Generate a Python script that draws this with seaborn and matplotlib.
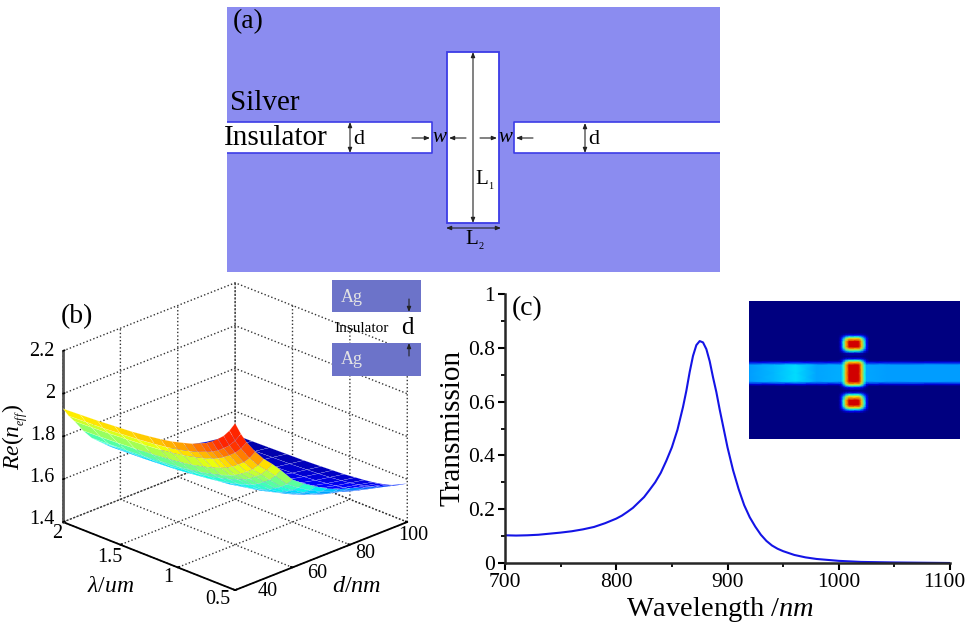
import numpy as np
import seaborn as sns
import matplotlib
matplotlib.use('Agg')
import matplotlib.pyplot as plt
from matplotlib.colors import ListedColormap
from matplotlib.patches import Rectangle
from matplotlib.transforms import ScaledTranslation

# panel (b) surface
d_nm = [40, 42, 44, 47, 50, 53, 56, 60, 64, 68, 72, 76, 80, 85, 90, 95, 100]
lam_um = [0.5, 0.55, 0.6, 0.65, 0.7, 0.75, 0.8, 0.875, 0.95, 1.05, 1.15, 1.25, 1.4, 1.55, 1.7, 1.85, 2.0]
n_eff = [
    [2.18, 2.12, 2.07, 2.01, 1.96, 1.92, 1.875, 1.81, 1.77, 1.735, 1.705, 1.68, 1.665, 1.64, 1.62, 1.60, 1.58],
    [2.135, 2.078, 2.03, 1.97, 1.92, 1.881, 1.838, 1.779, 1.741, 1.708, 1.68, 1.657, 1.643, 1.619, 1.60, 1.582, 1.564],
    [2.10, 2.045, 2.0, 1.94, 1.89, 1.851, 1.809, 1.756, 1.719, 1.687, 1.66, 1.638, 1.625, 1.603, 1.585, 1.568, 1.551],
    [2.075, 2.021, 1.978, 1.918, 1.868, 1.83, 1.789, 1.739, 1.703, 1.672, 1.646, 1.625, 1.613, 1.592, 1.574, 1.558, 1.542],
    [2.053, 2.0, 1.958, 1.898, 1.848, 1.81, 1.77, 1.723, 1.688, 1.659, 1.634, 1.614, 1.601, 1.581, 1.564, 1.549, 1.534],
    [2.035, 1.984, 1.942, 1.882, 1.832, 1.795, 1.756, 1.711, 1.677, 1.648, 1.624, 1.605, 1.593, 1.573, 1.556, 1.542, 1.528],
    [2.023, 1.972, 1.931, 1.871, 1.821, 1.785, 1.746, 1.703, 1.669, 1.641, 1.617, 1.598, 1.586, 1.568, 1.551, 1.537, 1.523],
    [2.005, 1.956, 1.916, 1.856, 1.806, 1.77, 1.732, 1.691, 1.658, 1.63, 1.607, 1.589, 1.578, 1.56, 1.543, 1.53, 1.517],
    [1.993, 1.944, 1.905, 1.845, 1.795, 1.759, 1.721, 1.683, 1.65, 1.623, 1.60, 1.583, 1.571, 1.554, 1.538, 1.525, 1.513],
    [1.978, 1.93, 1.892, 1.832, 1.782, 1.746, 1.709, 1.672, 1.64, 1.614, 1.592, 1.575, 1.564, 1.547, 1.531, 1.519, 1.507],
    [1.968, 1.92, 1.883, 1.823, 1.773, 1.737, 1.701, 1.666, 1.634, 1.608, 1.586, 1.57, 1.559, 1.542, 1.527, 1.515, 1.504],
    [1.96, 1.913, 1.876, 1.816, 1.766, 1.731, 1.695, 1.66, 1.629, 1.603, 1.582, 1.566, 1.555, 1.539, 1.523, 1.512, 1.501],
    [1.95, 1.904, 1.868, 1.808, 1.758, 1.722, 1.686, 1.654, 1.623, 1.597, 1.576, 1.56, 1.55, 1.534, 1.519, 1.508, 1.497],
    [1.944, 1.898, 1.862, 1.802, 1.752, 1.717, 1.681, 1.649, 1.619, 1.593, 1.573, 1.557, 1.547, 1.531, 1.516, 1.506, 1.495],
    [1.938, 1.892, 1.857, 1.797, 1.747, 1.711, 1.676, 1.645, 1.615, 1.59, 1.569, 1.554, 1.544, 1.528, 1.513, 1.503, 1.493],
    [1.934, 1.889, 1.853, 1.793, 1.743, 1.708, 1.673, 1.643, 1.612, 1.587, 1.567, 1.552, 1.542, 1.527, 1.512, 1.502, 1.491],
    [1.93, 1.885, 1.85, 1.79, 1.74, 1.705, 1.67, 1.64, 1.61, 1.585, 1.565, 1.55, 1.54, 1.525, 1.51, 1.50, 1.49],
]
d_ticks = [40, 60, 80, 100]
lam_ticks = [0.5, 1, 1.5, 2]
n_ticks = [1.4, 1.6, 1.8, 2, 2.2]

# panel (c) transmission spectrum
wavelength = [700, 710, 720, 730, 740, 750, 760, 770, 780, 790, 800, 805, 810, 815, 820, 825, 830, 835,
              840, 845, 850, 855, 860, 863, 866, 869, 872, 875, 878, 881, 884, 887, 890, 893, 896, 900,
              905, 910, 915, 920, 925, 930, 935, 940, 945, 950, 960, 970, 980, 1000, 1020, 1050, 1100]
transmission = [0.103, 0.102, 0.103, 0.105, 0.109, 0.113, 0.118, 0.125, 0.134, 0.148, 0.165, 0.176, 0.19,
                0.205, 0.225, 0.245, 0.272, 0.30, 0.335, 0.38, 0.43, 0.495, 0.58, 0.64, 0.71, 0.77, 0.81,
                0.825, 0.82, 0.795, 0.75, 0.69, 0.635, 0.57, 0.51, 0.43, 0.345, 0.275, 0.215, 0.17, 0.135,
                0.105, 0.082, 0.065, 0.053, 0.044, 0.03, 0.021, 0.015, 0.008, 0.004, 0.002, 0.0]

# panel (c) inset field map, profiles read along the inset box
field_x = [0, 0.12, 0.22, 0.32, 0.425, 0.437, 0.447, 0.46, 0.475, 0.52, 0.533, 0.547, 0.557, 0.57, 0.66, 1]
lobe_x = [0, 0, 0, 0, 0, 0.15, 0.42, 0.78, 1, 1, 0.78, 0.42, 0.15, 0, 0, 0]
band_x = [0.30, 0.33, 0.37, 0.31, 0.32, 0.32, 0.32, 0.32, 0.32, 0.32, 0.31, 0.31, 0.31, 0.31, 0.30, 0.30]
field_y = [0, 0.235, 0.25, 0.262, 0.275, 0.295, 0.335, 0.35, 0.365, 0.38, 0.405, 0.42, 0.432, 0.445, 0.465,
           0.525, 0.585, 0.605, 0.618, 0.63, 0.65, 0.665, 0.68, 0.695, 0.72, 0.755, 0.772, 0.787, 0.80, 0.815, 1]
lobe_y = [0, 0, 0.12, 0.42, 0.75, 1, 1, 0.75, 0.40, 0.06, 0, 0.10, 0.42, 0.75, 1,
          1, 1, 0.75, 0.42, 0.12, 0, 0.08, 0.40, 0.72, 1, 1, 0.75, 0.40, 0.12, 0, 0]
band_y = [0, 0, 0, 0, 0, 0, 0, 0, 0, 0, 0, 0, 0, 0.3, 1,
          1, 1, 0.3, 0, 0, 0, 0, 0, 0, 0, 0, 0, 0, 0, 0, 0]

W, H = 967, 626
sns.set_theme(style='ticks')
plt.rcParams['font.family'] = ['Liberation Serif', 'DejaVu Serif']
plt.rcParams['mathtext.fontset'] = 'custom'
plt.rcParams['mathtext.rm'] = 'Liberation Serif'
plt.rcParams['mathtext.it'] = 'Liberation Serif:italic'
plt.rcParams['text.color'] = 'black'
plt.rcParams['axes.labelcolor'] = 'black'
plt.rcParams['xtick.color'] = 'black'
plt.rcParams['ytick.color'] = 'black'

fig = plt.figure(figsize=(W / 100, H / 100), dpi=100, facecolor='white')


def px_axes(x0, y0, x1, y1, **kw):
    # axes placed with picture pixels, y counted from the top
    return fig.add_axes([x0 / W, 1 - y1 / H, (x1 - x0) / W, (y1 - y0) / H], **kw)


# panel (b)
ax_b = fig.add_axes([40 / W, -5.6 / H, 380 / W, 380 / H], projection='3d', proj_type='ortho')
ax_b.patch.set_alpha(0)
ax_b.view_init(elev=23.3, azim=-135)
ax_b.set_box_aspect((243, 243, 186))
D, L = np.meshgrid(d_nm, lam_um)
# jet without its dark red end, the peak stays bright red
short_jet = ListedColormap(plt.get_cmap('jet')(np.linspace(0, 0.87, 256)))
ax_b.plot_surface(D, L, np.array(n_eff), cmap=short_jet, vmin=1.47, vmax=2.05, rstride=1, cstride=1,
                  linewidth=0.1, edgecolor='white', shade=False, antialiased=True)
ax_b.set_xlim(40, 100, view_margin=0)
ax_b.set_ylim(0.5, 2, view_margin=0)
ax_b.set_zlim(1.4, 2.2, view_margin=0)
ax_b.set_xticks(d_ticks)
ax_b.set_yticks(lam_ticks)
ax_b.set_zticks(n_ticks)
ax_b.set_xticklabels([])
ax_b.set_yticklabels([])
ax_b.set_zticklabels([])
for axis in (ax_b.xaxis, ax_b.yaxis, ax_b.zaxis):
    axis.set_pane_color((1, 1, 1, 0))
    axis.pane.set_edgecolor((1, 1, 1, 0))
    axis._axinfo['grid'].update(color='#333333', linewidth=1.0, linestyle=(0, (1, 1.6)))
    axis._axinfo['tick'].update(inward_factor=0.0, outward_factor=0.12)
    axis.line.set_color('black')
    axis.line.set_linewidth(1.3)
ax_b.zaxis.line.set_color('#555555')
ax_b.zaxis.line.set_linewidth(2)

# panel (c)
ax_c = px_axes(505, 294, 950, 563)
sns.lineplot(x=wavelength, y=transmission, ax=ax_c, color='#1414e6', linewidth=1.5)
ax_c.set_xlim(700, 1100)
ax_c.set_ylim(0, 1)
ax_c.set_xticks([700, 800, 900, 1000, 1100])
ax_c.set_xticks([750, 850, 950, 1050], minor=True)
ax_c.set_yticks([0, 0.2, 0.4, 0.6, 0.8, 1])
ax_c.set_yticklabels(['0', '0.2', '0.4', '0.6', '0.8', '1'])
ax_c.set_yticks([0.1, 0.3, 0.5, 0.7, 0.9], minor=True)
ax_c.tick_params(which='major', length=5, width=1.5, labelsize=15.5, pad=2)
ax_c.tick_params(which='minor', length=3, width=1.3)
ax_c.patch.set_alpha(0)
sns.despine(ax=ax_c)
for side in ('left', 'bottom'):
    ax_c.spines[side].set_linewidth(1.8)
last = ax_c.get_xticklabels()[-1]
last.set_transform(last.get_transform() + ScaledTranslation(-6 / 100, 0, fig.dpi_scale_trans))
ax_c.set_xlabel('Wavelength /$\\mathit{nm}$', fontsize=20.5, va='center')
ax_c.xaxis.set_label_coords((720 - 505) / 445, -(610 - 563) / 269)
ax_c.set_ylabel('Transmission', fontsize=21, va='center')
ax_c.yaxis.set_label_coords(-(505 - 452) / 445, (563 - 428) / 269)

ax_in = px_axes(749, 301, 960, 439)
field = np.maximum(np.outer(lobe_y, lobe_x), np.outer(band_y, band_x))
ax_in.pcolormesh(field_x, field_y, field, cmap='jet', vmin=0, vmax=1.08, shading='gouraud')
ax_in.set_xlim(0, 1)
ax_in.set_ylim(1, 0)
ax_in.set_axis_off()

# schematic and all free labels, drawn in picture pixels
over = fig.add_axes([0, 0, 1, 1], zorder=5)
over.set_xlim(0, W)
over.set_ylim(H, 0)
over.set_axis_off()
over.patch.set_alpha(0)

silver = '#8b8cf0'
rim = '#3c3ce6'
over.add_patch(Rectangle((227, 7), 493, 265, fc=silver, ec='none'))
over.add_patch(Rectangle((227, 122), 205, 31, fc='white', ec='none'))
over.add_patch(Rectangle((514, 122), 206, 31, fc='white', ec='none'))
over.add_patch(Rectangle((447, 52), 52, 171, fc='white', ec=rim, lw=1.3))
over.plot([227, 432, 432, 227], [122, 122, 153, 153], color=rim, lw=1.2, solid_capstyle='butt')
over.plot([720, 514, 514, 720], [122, 122, 153, 153], color=rim, lw=1.2, solid_capstyle='butt')

arrows = [
    (350, 122, 350, 153, '<|-|>'), (585, 123, 585, 153, '<|-|>'),
    (473, 52, 473, 223, '<|-|>'), (446, 228, 501, 228, '<|-|>'),
    (412, 138, 430, 138, '-|>'), (466, 138, 449, 138, '-|>'),
    (480, 138, 497, 138, '-|>'), (533, 138, 516, 138, '-|>'),
    (409, 299, 409, 312, '-|>'), (409, 356, 409, 343, '-|>'),
]
for x0, y0, x1, y1, style in arrows:
    over.annotate('', xy=(x1, y1), xytext=(x0, y0),
                  arrowprops=dict(arrowstyle=style + ',head_length=0.25,head_width=0.1', color='#222222',
                                  lw=0.8, shrinkA=0, shrinkB=0))

ag = '#6c73c9'
over.add_patch(Rectangle((332, 280), 89, 32, fc=ag, ec='none'))
over.add_patch(Rectangle((332, 343), 89, 33, fc=ag, ec='none'))

labels = [
    (248, 22, '(a)', 20, 0), (265, 103, 'Silver', 21, 0), (276, 138, 'Insulator', 21, 0),
    (359, 139, 'd', 16, 0), (594, 139, 'd', 16, 0), (440, 138, '$\\mathit{w}$', 15, 0),
    (506, 138, '$\\mathit{w}$', 15, 0), (485, 180, 'L$_{_{1}}$', 15, 0), (475, 240, 'L$_{_{2}}$', 15, 0),
    (77, 317, '(b)', 20, 0), (527, 309, '(c)', 20, 0),
    (362, 328, 'Insulator', 11, 0), (407, 328, 'd', 18, 0),
    (16, 437, '$\\mathit{Re(n_{_{eff}})}$', 17, 90),
    (111, 587, '$\\mathit{\\lambda}$/$\\mathit{um}$', 17, 0), (357, 587, '$\\mathit{d/nm}$', 17.5, 0),
]
for x, y, s, size, rot in labels:
    over.text(x, y, s, fontsize=size, rotation=rot, ha='center', va='center')
over.text(352, 297, 'Ag', fontsize=13, color='#e4e4e4', ha='center', va='center')
over.text(352, 359, 'Ag', fontsize=13, color='#e4e4e4', ha='center', va='center')

# tick labels of the 3D box, which do not follow its ticks evenly
for tick, x, y in zip(d_ticks, [268, 317, 365, 413], [592, 573, 554, 535]):
    over.text(x, y, str(tick), fontsize=14.5, ha='center', va='center')
for tick, x, y in zip(lam_ticks, [218, 168, 110, 57], [600, 578, 558, 533]):
    over.text(x, y, f'{tick:g}', fontsize=14.5, ha='center', va='center')
for tick, y in zip(n_ticks, [520, 478, 435, 393, 351]):
    over.text(55, y, f'{tick:g}', fontsize=14.5, ha='right', va='center')

fig.savefig('out.png', dpi=100)
